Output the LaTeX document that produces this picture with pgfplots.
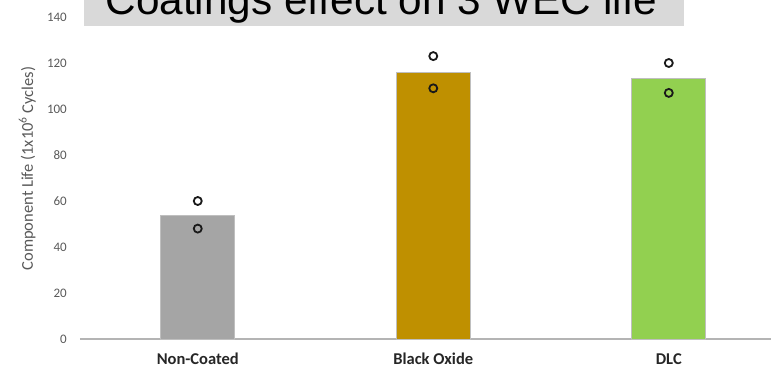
\documentclass[border=0pt]{standalone}
\usepackage{fontspec}
\setmainfont{Carlito}
\newfontfamily\titlefont{Liberation Sans}
\usepackage{pgfplots}
\pgfplotsset{compat=1.18}

\definecolor{textgrey}{HTML}{595959}
\definecolor{catgrey}{HTML}{262626}
\definecolor{baseline}{HTML}{B4B4B4}
\definecolor{barnc}{HTML}{A5A5A5}
\definecolor{barbo}{HTML}{BF9000}
\definecolor{bardlc}{HTML}{92D050}
\definecolor{titlebox}{HTML}{D9D9D9}

\begin{document}
\begin{tikzpicture}
\begin{axis}[
  scale only axis,
  width=691pt, height=322pt,
  xmin=-0.5, xmax=2.434,
  ymin=0, ymax=140,
  clip=false,
  axis x line*=bottom,
  axis y line*=left,
  x axis line style={draw=baseline, line width=1.4pt},
  y axis line style={draw=none},
  xtick={0,1,2},
  xticklabels={Non-Coated, Black Oxide, DLC},
  ytick={0,20,...,140},
  major tick length=0pt,
  tick style={draw=none},
  /pgf/number format/assume math mode=true,
  yticklabel style={font=\fontsize{13}{13}\selectfont, text=textgrey,
    anchor=east, inner sep=0pt, xshift=-13pt},
  xticklabel style={font=\fontsize{16.5}{16.5}\selectfont\bfseries, text=catgrey,
    anchor=base, inner sep=0pt, yshift=-25pt},
]
  % mean component life for each coating
  \addplot[ybar, bar shift=0pt, bar width=74pt, fill=barnc, draw=black!25, line width=0.6pt]
    coordinates {(0,54)};
  \addplot[ybar, bar shift=0pt, bar width=74pt, fill=barbo, draw=black!25, line width=0.6pt]
    coordinates {(1,116)};
  \addplot[ybar, bar shift=0pt, bar width=74pt, fill=bardlc, draw=black!25, line width=0.6pt]
    coordinates {(2,113.5)};
  % individual test results
  \addplot[only marks, mark=o, mark size=4pt,
    mark options={draw=black!90, line width=1.8pt}]
    coordinates {(0,60) (0,48) (1,123) (1,109) (2,120) (2,107)};
  \coordinate (sw) at (rel axis cs:0,0);
\end{axis}
% y axis title
\node[rotate=90, anchor=base, inner sep=0pt, text=textgrey,
  font=\fontsize{16.5}{16.5}\selectfont]
  at ([shift={(-47pt,170.5pt)}]sw) {Component Life (1x10\textsuperscript{6} Cycles)};
% title banner
\fill[titlebox] ([shift={(4pt,313.3pt)}]sw) rectangle ([shift={(604pt,380pt)}]sw);
\node[anchor=base, inner sep=0pt, font=\titlefont\fontsize{42.3}{42.3}\selectfont]
  at ([shift={(301.5pt,324pt)}]sw) {Coatings effect on 3 WEC life};
\pgfresetboundingbox
\useasboundingbox ([shift={(-80pt,-28pt)}]sw) rectangle ([shift={(691pt,339pt)}]sw);
\end{tikzpicture}
\end{document}
